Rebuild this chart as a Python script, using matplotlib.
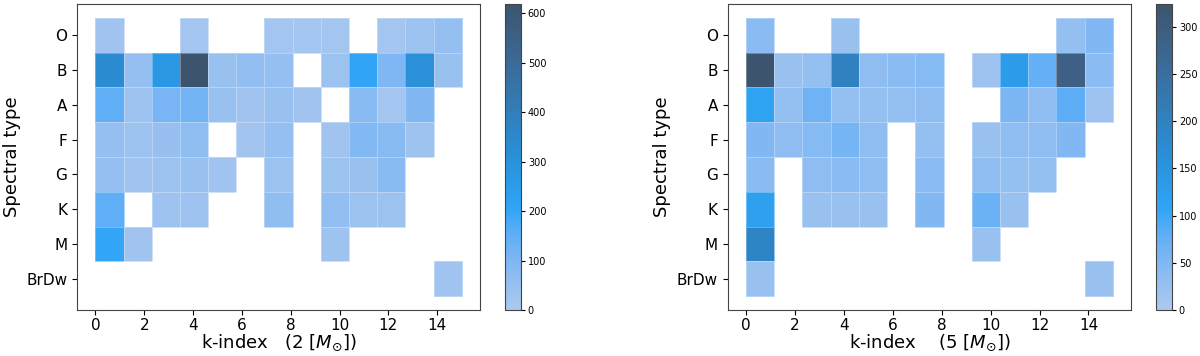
import numpy as np
import matplotlib
matplotlib.use("Agg")
import matplotlib.pyplot as plt
from matplotlib.colors import to_rgba, ListedColormap
from seaborn.external import husl


spectral_types = ["O", "B", "A", "F", "G", "K", "M", "BrDw"]

# 13 bins spanning k-index 0..15
k_min = 0
k_max = 15
n_bins = 13

# counts per spectral type (rows) and k-index bin (columns), 0 = empty
counts_2 = [
    [30, 0, 0, 20, 0, 0, 20, 20, 20, 0, 20, 40, 55],
    [330, 55, 270, 619, 45, 60, 55, 0, 40, 210, 100, 310, 45],
    [150, 35, 110, 120, 45, 30, 45, 30, 0, 80, 20, 95, 0],
    [55, 40, 50, 70, 0, 25, 55, 0, 30, 90, 80, 35, 0],
    [55, 30, 40, 45, 30, 0, 40, 0, 40, 45, 80, 0, 0],
    [150, 0, 35, 35, 0, 0, 65, 0, 60, 40, 40, 0, 0],
    [200, 30, 0, 0, 0, 0, 0, 0, 35, 0, 0, 0, 0],
    [0, 0, 0, 0, 0, 0, 0, 0, 0, 0, 0, 0, 30],
]

counts_5 = [
    [40, 0, 0, 25, 0, 0, 0, 0, 0, 0, 0, 30, 50],
    [324, 25, 30, 200, 35, 40, 45, 0, 20, 130, 75, 290, 40],
    [115, 30, 65, 30, 30, 30, 35, 0, 0, 55, 35, 80, 20],
    [50, 35, 45, 60, 35, 0, 30, 0, 25, 35, 35, 50, 0],
    [40, 0, 35, 40, 35, 0, 40, 0, 35, 30, 30, 0, 0],
    [120, 0, 25, 25, 25, 0, 50, 0, 70, 25, 0, 0, 0],
    [190, 0, 0, 0, 0, 0, 0, 0, 25, 0, 0, 0, 0],
    [25, 0, 0, 0, 0, 0, 0, 0, 0, 0, 0, 0, 25],
]

x_labels = [
    r"k-index   (2 [$M_{\odot}$])",
    r"k-index    (5 [$M_{\odot}$])",
]


def seaborn_cmap(color):

    r, g, b, _ = to_rgba(color)
    h, s, _ = husl.rgb_to_husl(r, g, b)
    xx = np.linspace(-1, 1, int(1.15 * 256))[:256]
    ramp = np.zeros((256, 3))
    ramp[:, 0] = h
    ramp[:, 1] = s * np.cos(xx)
    ramp[:, 2] = np.linspace(35, 80, 256)
    colors = np.clip([husl.husl_to_rgb(*hsl) for hsl in ramp], 0, 1)

    return ListedColormap(colors[::-1])


def plot_panel(ax, cax, counts, xlabel, cmap):

    heights = np.ma.masked_less_equal(np.array(counts, dtype=float), 0)

    x_edges = np.linspace(k_min, k_max, n_bins + 1)
    y_edges = np.arange(len(spectral_types) + 1) - 0.5

    mesh = ax.pcolormesh(
        x_edges,
        y_edges,
        heights,
        cmap=cmap,
        vmin=0,
        edgecolor=(1, 1, 1, 0.3),
        linewidth=0.5,
    )

    ax.set_xlim(-0.75, 15.75)
    ax.set_ylim(len(spectral_types) - 0.1, -0.9)

    ax.set_yticks(range(len(spectral_types)))
    ax.set_yticklabels(spectral_types)
    ax.set_xticks(range(0, 15, 2))

    ax.tick_params(labelsize=11)
    ax.tick_params(axis="x", pad=2)
    ax.set_xlabel(xlabel, fontsize=13, labelpad=0)
    ax.set_ylabel("Spectral type", fontsize=13)

    for spine in ax.spines.values():
        spine.set_edgecolor("#444444")

    cbar = ax.figure.colorbar(mesh, cax=cax)
    cbar.ax.tick_params(labelsize=7, pad=2, length=3)
    cbar.outline.set_edgecolor("#444444")


def main():

    fig = plt.figure(figsize=(12, 3.56), dpi=100)

    cmap = seaborn_cmap("C0")

    ax1 = fig.add_axes([0.0642, 0.1292, 0.3358, 0.8596])
    cax1 = fig.add_axes([0.4208, 0.1292, 0.0133, 0.8596])
    ax2 = fig.add_axes([0.6064, 0.1292, 0.3363, 0.8596])
    cax2 = fig.add_axes([0.9633, 0.1292, 0.0133, 0.8596])

    plot_panel(ax1, cax1, counts_2, x_labels[0], cmap)
    plot_panel(ax2, cax2, counts_5, x_labels[1], cmap)

    fig.savefig("out.png", dpi=100)
    plt.close(fig)


if __name__ == "__main__":
    main()
